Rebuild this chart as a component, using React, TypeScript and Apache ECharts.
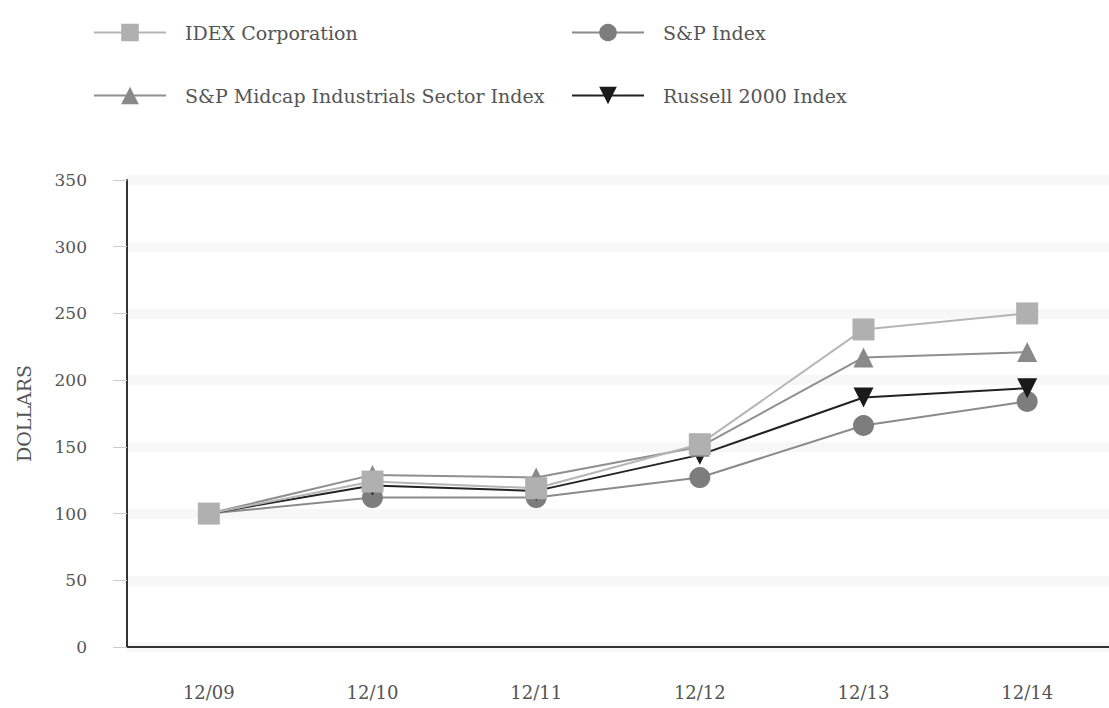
import React, { useEffect, useRef } from "react";
import * as echarts from "echarts";

const categories = ["12/09", "12/10", "12/11", "12/12", "12/13", "12/14"];
const idex = [100, 124, 119, 152, 238, 250];
const spIndex = [100, 112, 112, 127, 166, 184];
const midcap = [100, 129, 127, 150, 217, 221];
const russell = [100, 121, 117, 144, 187, 194];
const yTicks = [0, 50, 100, 150, 200, 250, 300, 350];

const FONT = "'DejaVu Serif', 'Liberation Serif', serif";

export default function App() {
  const ref = useRef<HTMLDivElement>(null);
  useEffect(() => {
    const chart = echarts.init(ref.current!, null, { renderer: "svg" });
    const legendText = { fontFamily: FONT, fontSize: 19, color: "#555", padding: [0, 0, 0, 14] };
    const mkLegend = (name: string, left: number, top: number) => ({
      data: [name],
      left,
      top,
      itemWidth: 72,
      itemHeight: 22,
      itemGap: 10,
      textStyle: legendText,
    });
    chart.setOption({
      animation: false,
      backgroundColor: "#fff",
      legend: [
        mkLegend("IDEX Corporation", 88, 18),
        mkLegend("S&P Index", 566, 18),
        mkLegend("S&P Midcap Industrials Sector Index", 88, 81),
        mkLegend("Russell 2000 Index", 566, 81),
      ],
      grid: { left: 127, right: 0, top: 180, bottom: 61 },
      xAxis: {
        type: "category",
        data: categories,
        boundaryGap: true,
        axisLine: { lineStyle: { color: "#333", width: 2 } },
        axisTick: { alignWithLabel: true, length: 10, lineStyle: { color: "#aaa" } },
        axisLabel: { fontFamily: FONT, fontSize: 18, color: "#555", margin: 36 },
      },
      yAxis: {
        type: "value",
        min: 0,
        max: 350,
        interval: 50,
        name: "DOLLARS",
        nameLocation: "middle",
        nameGap: 94,
        nameTextStyle: { fontFamily: FONT, fontSize: 19, color: "#555" },
        axisLine: { show: true, lineStyle: { color: "#333", width: 2 } },
        axisTick: { show: true, length: 14, lineStyle: { color: "#ccc" } },
        axisLabel: {
          fontFamily: FONT,
          fontSize: 17,
          color: "#555",
          margin: 40,
          customValues: yTicks,
        },
        splitLine: { show: true, lineStyle: { color: "#f7f7f7", width: 10 } },
      },
      series: [
        {
          name: "IDEX Corporation",
          type: "line",
          data: idex,
          symbol: "rect",
          symbolSize: 22,
          z: 6,
          lineStyle: { color: "#b5b5b5", width: 2 },
          itemStyle: { color: "#b0b0b0" },
        },
        {
          name: "S&P Index",
          type: "line",
          data: spIndex,
          symbol: "circle",
          symbolSize: 21,
          z: 3,
          lineStyle: { color: "#8a8a8a", width: 2 },
          itemStyle: { color: "#7d7d7d" },
        },
        {
          name: "S&P Midcap Industrials Sector Index",
          type: "line",
          data: midcap,
          symbol: "triangle",
          symbolSize: 20,
          z: 5,
          lineStyle: { color: "#8f8f8f", width: 2 },
          itemStyle: { color: "#8a8a8a" },
        },
        {
          name: "Russell 2000 Index",
          type: "line",
          data: russell,
          symbol: "triangle",
          symbolRotate: 180,
          symbolSize: 20,
          z: 4,
          lineStyle: { color: "#222", width: 2 },
          itemStyle: { color: "#1a1a1a" },
        },
      ],
    });
    return () => chart.dispose();
  }, []);
  return <div ref={ref} style={{ width: 1109, height: 708, position: "absolute", left: 0, top: 0 }} />;
}
